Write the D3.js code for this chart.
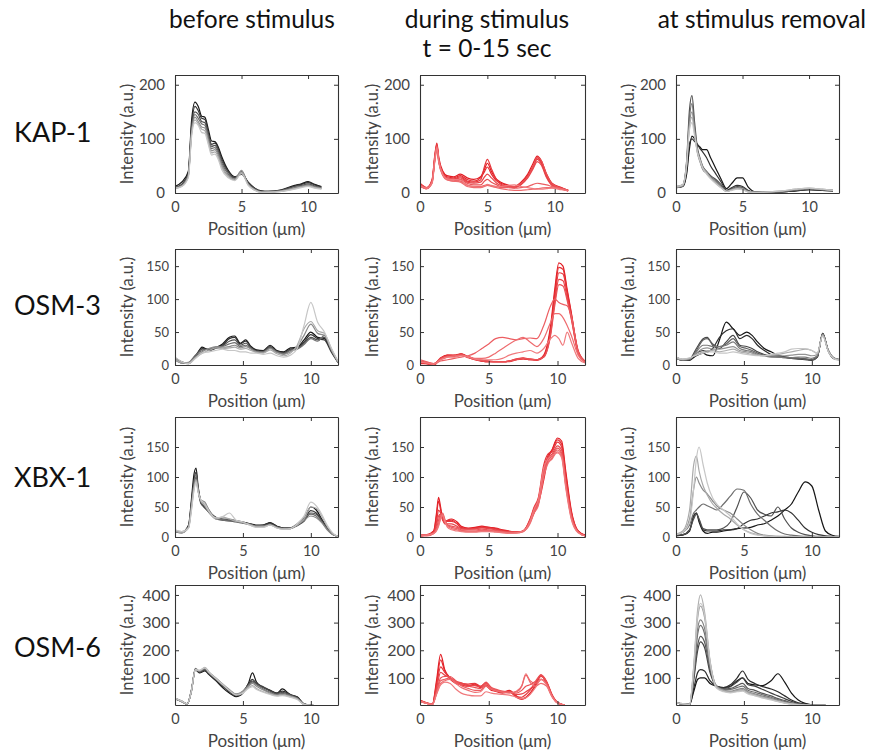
<!DOCTYPE html>
<html><head><meta charset="utf-8">
<script src="https://cdn.jsdelivr.net/npm/d3@7"></script>
<style>
body{margin:0;background:#fff}
svg{display:block}
text{font-family:Lato,"Open Sans",sans-serif}
</style>
</head><body>
<svg id="chart" width="883" height="754"></svg>
<script>
// ---- labels ----
const rowNames = ["KAP-1", "OSM-3", "XBX-1", "OSM-6"];
const colTitles = [["before stimulus"], ["during stimulus", "t = 0-15 sec"], ["at stimulus removal"]];
const xTickValues = [0, 5, 10];
const yTickValues = [[0, 100, 200], [0, 50, 100, 150], [0, 50, 100, 150], [100, 200, 300, 400]];
const yDomains = [[0, 218], [0, 176], [0, 200], [2, 436]];
const xDomains = [[0, 12.25], [0, 12], [0, 12], [0, 12]];

// ---- KAP-1 ----
const kap1BeforeX = [0,0.5,1.0,1.25,1.5,1.75,2.0,2.25,2.5,2.75,3.0,3.25,3.5,4.0,4.5,5.0,5.5,6.0,6.5,7.0,8.0,9.0,9.5,10.0,10.5,11.0];
const kap1Before = [
  [12,20,40,135,168,160,142,140,118,96,95,85,68,42,30,36,20,9,4,3,6,14,17,21,16,12],
  [10,16,38,125,160,152,138,136,112,90,92,82,64,40,28,35,19,8,3,3,5,13,16,19,15,11],
  [11,15,35,120,150,145,132,130,108,86,88,78,60,38,27,38,18,8,3,2,5,12,14,17,13,10],
  [9,14,33,115,145,138,128,125,104,82,84,74,56,35,25,40,17,7,2,2,4,10,13,15,12,9],
  [10,13,32,112,140,132,122,120,98,78,80,70,52,32,26,42,16,6,2,2,4,9,12,14,11,8],
  [8,12,30,110,135,128,118,115,94,74,76,66,48,30,24,38,15,5,1,2,3,8,11,13,10,8],
  [9,12,28,105,130,125,112,110,90,70,72,62,44,28,23,36,14,5,1,1,3,7,10,12,9,7]
];
const kap1DuringX = [0,0.5,0.9,1.1,1.25,1.4,1.7,2.0,2.5,3.0,3.5,4.0,4.5,4.8,5.0,5.3,5.7,6.0,6.5,7.0,7.5,8.0,8.4,8.7,9.0,9.4,9.8,10.5,11.0];
const kap1During = [
  [18,10,25,70,92,65,40,32,30,35,28,25,30,45,55,40,25,20,15,12,20,35,55,68,60,35,18,10,5],
  [15,8,22,65,88,60,38,30,28,32,25,22,28,40,48,35,22,18,14,10,18,32,50,65,58,32,16,9,5],
  [12,9,20,62,85,58,36,28,26,30,22,20,24,50,62,45,24,16,12,10,15,30,48,62,55,30,15,8,4],
  [14,8,24,68,90,62,35,27,25,28,20,18,20,30,35,28,18,14,12,10,16,28,45,58,52,28,14,8,4],
  [16,10,22,60,82,56,33,25,22,25,18,15,15,22,25,20,15,12,12,12,18,30,50,66,60,34,17,9,5],
  [13,9,20,64,86,60,34,26,24,22,15,12,12,14,15,13,12,10,10,9,10,12,16,18,17,15,12,8,5],
  [12,8,18,58,80,55,32,24,22,20,12,10,10,12,14,12,10,8,6,5,5,6,7,8,9,10,10,7,4],
  [14,9,20,62,84,58,34,26,25,24,14,12,11,13,16,14,12,12,14,15,12,10,8,7,7,8,9,6,4]
];
const kap1RemovalX = [0,0.5,0.8,1.0,1.2,1.4,1.6,1.8,2.0,2.3,2.6,3.0,3.4,3.8,4.2,4.6,5.0,5.4,6.0,7.0,8.0,9.0,10.0,11.0,11.8];
const kap1Removal = [
  [10,12,35,80,105,100,90,85,80,80,65,45,25,8,18,28,28,12,2,1,2,4,6,5,4],
  [10,12,40,90,100,95,90,82,76,65,50,35,20,5,10,14,12,5,1,1,2,4,6,5,4],
  [12,15,60,150,180,130,85,65,50,40,32,25,15,4,8,12,10,4,1,1,3,5,7,6,5],
  [11,14,55,135,165,120,80,60,45,38,30,22,12,3,7,10,9,3,1,1,3,6,8,6,5],
  [10,13,52,125,150,115,75,58,44,36,28,20,10,3,6,9,8,3,1,2,3,6,8,6,5],
  [11,14,55,120,140,110,78,62,48,38,28,18,10,3,6,8,7,2,1,2,4,7,9,7,5],
  [12,15,50,115,130,105,76,60,46,35,26,17,9,3,5,7,6,2,1,2,4,7,9,7,5]
];

// ---- OSM-3 ----
const osm3BeforeX = [0,0.5,1.0,1.5,2.0,2.5,3.0,3.5,4.0,4.4,4.8,5.2,5.6,6.0,6.5,7.0,7.5,8.0,8.5,9.0,9.5,10.0,10.5,11.0,11.5,12.0];
const osm3Before = [
  [10,4,3,12,27,22,26,32,42,44,33,38,28,23,22,30,22,20,26,27,38,50,42,40,22,4],
  [9,3,2,14,25,24,27,30,40,42,32,36,27,22,21,28,21,19,24,26,35,46,40,38,20,4],
  [11,5,3,13,24,23,25,29,36,38,30,33,26,21,20,27,20,18,23,25,33,42,38,42,22,5],
  [8,3,4,15,22,24,26,28,32,34,28,30,25,20,20,26,20,17,22,24,31,40,36,45,24,5],
  [10,4,3,12,20,25,28,27,28,30,26,28,24,20,19,25,19,16,20,28,45,62,48,45,23,4],
  [9,3,3,11,18,22,26,25,26,27,24,25,22,19,18,23,17,14,18,30,55,66,52,48,25,5],
  [12,5,2,10,18,20,22,24,22,22,20,20,18,18,16,18,14,12,15,25,60,95,65,50,26,6]
];
const osm3DuringX = [0,0.5,1.0,1.5,2.0,2.5,3.0,3.5,4.0,4.5,5.0,5.5,6.0,6.5,7.0,7.5,8.0,8.5,9.0,9.5,9.8,10.1,10.4,10.7,11.0,11.5,12.0];
const osm3During = [
  [2,2,0,10,15,14,17,12,9,6,5,5,5,6,8,10,8,8,15,60,115,155,150,115,80,20,5],
  [3,2,1,11,15,15,16,13,9,7,6,5,5,6,9,10,9,8,14,55,108,148,145,112,78,22,6],
  [4,2,0,9,14,15,17,12,8,6,5,5,5,5,8,9,8,7,12,50,100,140,138,108,75,20,5],
  [5,3,1,10,14,13,15,11,8,6,5,5,5,6,9,11,9,8,13,48,95,130,128,102,72,18,5],
  [6,4,2,10,13,14,15,12,9,7,6,5,5,6,8,10,9,8,12,45,90,122,120,98,70,18,4],
  [8,5,2,6,8,10,12,14,18,25,32,40,42,40,38,40,41,40,60,90,100,95,92,90,75,20,5],
  [5,3,2,8,12,14,15,13,10,10,12,18,25,32,38,42,35,28,40,65,78,78,72,60,45,15,4],
  [4,3,1,8,12,12,14,12,9,8,8,8,10,15,18,20,22,18,25,40,45,40,30,50,35,10,3]
];
const osm3RemovalX = [0,0.5,1.0,1.5,2.0,2.3,2.7,3.2,3.7,4.2,4.7,5.2,5.6,6.0,6.5,7.0,7.5,8.0,8.5,9.0,9.5,10.0,10.4,10.8,11.2,11.6,12.0];
const osm3Removal = [
  [12,8,8,14,18,15,14,38,65,55,45,50,45,35,25,20,15,12,11,10,9,8,12,48,22,10,8],
  [10,7,7,18,22,20,25,42,52,55,40,45,40,30,22,16,14,12,10,9,8,7,12,47,22,10,8],
  [11,8,9,25,40,42,30,25,35,45,30,28,25,20,16,14,13,12,11,10,9,8,13,48,23,11,8],
  [10,7,8,22,38,40,32,28,32,40,28,25,22,18,15,13,12,11,10,10,9,8,12,46,22,10,8],
  [12,8,9,20,30,30,28,28,30,35,25,22,20,16,14,12,12,11,11,12,12,10,14,47,23,11,8],
  [11,9,10,18,25,26,24,24,26,28,22,20,18,15,14,14,14,14,15,16,16,14,16,46,22,11,8],
  [10,8,10,16,20,22,22,20,22,24,20,18,16,15,14,15,16,18,20,22,24,22,18,45,22,10,8],
  [12,9,11,15,18,20,20,18,18,20,18,16,15,14,14,16,18,20,24,25,25,22,18,44,21,10,7]
];

// ---- XBX-1 ----
const xbx1BeforeX = [0,0.5,1.0,1.2,1.4,1.55,1.7,1.9,2.2,2.6,3.0,3.5,4.0,4.5,5.0,5.5,6.0,6.5,7.0,7.5,8.0,8.5,9.0,9.5,10.0,10.4,10.8,11.2,11.6,12.0];
const xbx1Before = [
  [10,8,20,60,105,115,85,60,50,40,33,30,29,27,25,22,20,20,24,18,15,15,20,30,50,45,30,15,5,1],
  [9,7,18,55,95,108,80,58,48,40,32,29,28,26,24,22,19,20,23,18,15,15,20,28,44,40,28,14,5,1],
  [10,8,17,50,88,100,78,56,50,38,31,28,27,25,23,21,18,19,22,17,14,14,19,26,40,38,27,14,5,1],
  [9,8,18,52,90,105,82,60,55,42,30,28,27,26,24,21,18,18,21,16,14,15,22,32,38,35,25,13,4,1],
  [11,9,16,48,84,96,78,62,58,40,32,30,30,27,24,21,18,18,20,16,14,14,20,28,35,32,24,12,4,1],
  [10,7,15,45,80,95,76,60,52,38,30,33,30,26,24,20,17,17,20,15,13,14,20,30,50,48,35,18,6,1],
  [12,9,15,42,78,92,75,62,55,40,32,34,40,28,25,20,16,16,20,15,13,14,22,35,58,52,38,20,7,1]
];
const xbx1DuringX = [0,0.5,1.0,1.2,1.35,1.5,1.65,1.8,2.0,2.3,2.7,3.0,3.5,4.0,4.5,5.0,5.5,6.0,6.5,7.0,7.5,8.0,8.3,8.6,9.0,9.3,9.6,10.0,10.3,10.6,11.0,11.5,12.0];
const xbx1During = [
  [3,3,10,40,66,50,30,25,28,30,25,18,15,16,18,16,15,12,10,8,10,25,40,55,95,130,145,165,160,110,45,10,3],
  [3,4,10,35,60,45,28,24,27,28,22,16,14,15,17,16,14,11,9,8,10,28,45,62,110,135,145,162,155,105,42,10,3],
  [2,3,8,25,45,40,32,25,26,26,22,15,14,14,16,15,13,10,9,8,10,30,50,65,120,138,142,158,150,100,40,9,2],
  [2,3,8,20,35,38,30,22,22,22,18,14,13,14,15,14,12,10,9,8,10,28,48,60,115,132,138,152,145,95,38,9,2],
  [2,3,7,15,28,38,35,25,20,18,16,12,12,12,13,12,11,9,8,8,10,26,45,58,110,128,135,148,140,92,36,8,2],
  [2,2,6,12,22,35,40,30,20,16,14,11,10,10,11,11,10,8,7,7,9,24,42,55,105,125,132,145,138,88,34,8,2],
  [2,3,6,12,20,32,38,28,18,14,12,10,9,9,10,10,9,8,7,7,9,22,40,52,100,122,130,142,135,85,32,8,2],
  [3,3,6,10,18,30,36,26,16,12,10,9,8,8,9,9,8,7,6,7,10,26,46,62,115,130,136,140,132,82,30,7,2]
];
const xbx1RemovalX = [0,0.5,1.0,1.3,1.5,1.7,2.0,2.3,2.7,3.0,3.5,4.0,4.5,5.0,5.5,6.0,6.5,7.0,7.5,8.0,8.5,9.0,9.5,10.0,10.5,11.0,11.5,12.0];
const xbx1Removal = [
  [2,3,10,35,40,25,10,6,8,8,10,12,14,15,16,20,22,28,35,45,55,75,92,85,45,10,3,1],
  [3,4,12,35,40,28,12,10,10,10,12,12,14,22,28,30,35,40,42,45,40,28,15,8,4,2,1,0],
  [3,4,12,30,38,30,14,12,12,12,15,25,50,75,65,45,38,35,50,30,15,8,4,2,1,1,0,0],
  [4,8,20,40,45,50,55,52,48,45,55,68,80,78,55,38,28,18,10,5,3,2,1,1,0,0,0,0],
  [5,8,30,80,100,90,78,72,60,52,45,40,30,20,12,6,3,2,1,1,0,0,0,0,0,0,0,0],
  [5,10,45,120,135,110,85,70,55,48,38,30,20,12,7,4,2,1,1,0,0,0,0,0,0,0,0,0],
  [4,8,25,80,130,150,120,90,65,55,45,35,22,12,6,3,2,1,0,0,0,0,0,0,0,0,0,0]
];

// ---- OSM-6 ----
const osm6BeforeX = [0,0.5,0.9,1.2,1.5,1.8,2.2,2.5,3.0,3.5,4.0,4.5,5.0,5.4,5.7,6.0,6.5,7.0,7.5,7.9,8.5,9.0,9.5,10.0,10.5,11.0];
const osm6Before = [
  [25,15,6,55,132,118,125,112,90,65,45,32,45,80,118,85,65,55,45,60,38,32,5,1,0,0],
  [24,14,5,52,128,120,128,115,92,70,50,35,48,78,95,80,68,55,45,52,40,30,6,1,0,0],
  [26,16,6,50,130,122,130,115,95,72,52,38,50,75,88,78,65,52,42,48,38,28,5,1,0,0],
  [25,15,5,50,135,125,133,118,98,75,55,40,52,72,85,75,60,48,40,44,36,26,5,1,0,0],
  [24,14,6,48,130,125,135,120,100,78,58,42,52,70,80,70,56,45,38,40,34,25,5,1,0,0],
  [26,15,5,50,128,126,138,122,100,78,56,40,48,65,72,62,50,42,36,38,32,24,4,1,0,0],
  [27,16,6,52,130,128,136,120,98,76,54,38,45,62,68,58,48,40,34,36,30,22,4,1,0,0]
];
const osm6DuringX = [0,0.5,0.9,1.2,1.5,1.8,2.2,2.6,3.0,3.5,4.0,4.4,4.8,5.2,5.6,6.0,6.5,7.0,7.4,7.7,8.0,8.4,8.8,9.2,9.6,10.0,10.5];
const osm6During = [
  [20,10,5,90,185,130,100,80,75,70,78,65,70,55,52,48,55,35,25,30,45,70,95,80,35,10,2],
  [18,9,4,80,165,125,95,82,80,72,75,68,75,58,50,45,50,30,22,28,42,75,105,85,38,10,2],
  [16,8,5,70,140,120,100,85,80,78,80,70,80,60,52,48,52,32,30,40,55,80,110,88,40,12,2],
  [15,8,4,60,120,110,100,88,82,75,72,68,85,62,55,50,48,40,42,50,60,82,108,82,36,10,2],
  [16,9,4,50,100,105,105,90,78,70,65,62,82,65,58,52,50,45,55,70,75,88,112,86,38,11,2],
  [15,8,4,45,90,95,100,85,72,62,55,55,78,62,55,50,48,50,70,110,90,80,95,78,35,10,2],
  [16,8,4,42,80,90,95,80,65,55,48,50,70,58,52,48,45,52,72,115,85,70,80,70,32,9,2],
  [14,8,4,40,75,85,80,60,45,38,35,35,50,45,42,40,38,30,25,28,40,65,95,75,32,9,2]
];
const osm6RemovalX = [0,0.5,1.0,1.3,1.6,1.8,2.1,2.5,3.0,3.5,4.0,4.5,4.9,5.3,5.8,6.3,7.0,7.5,8.0,8.5,9.0,9.5,10.0,11.0];
const osm6Removal = [
  [10,6,4,50,95,100,100,80,70,65,70,90,100,80,75,72,90,115,85,45,20,8,3,1],
  [10,6,4,60,120,130,125,90,70,65,75,100,125,95,80,70,60,50,35,20,10,5,2,1],
  [10,6,4,90,200,230,210,120,70,62,68,85,100,75,70,60,45,35,25,15,8,4,2,1],
  [11,7,4,100,220,250,230,130,68,60,62,72,80,62,55,45,35,25,18,10,6,3,2,1],
  [10,6,4,110,260,290,260,140,70,58,58,65,70,55,48,40,30,22,15,9,5,3,1,1],
  [10,6,4,115,280,310,280,150,65,55,52,58,62,50,42,35,26,18,12,8,4,2,1,1],
  [10,6,4,130,320,360,320,160,68,55,50,55,58,48,40,32,24,16,10,6,3,2,1,1],
  [10,6,4,140,350,400,340,165,66,52,48,52,55,45,38,30,22,15,10,6,3,2,1,1],
  [11,7,4,135,330,370,330,160,62,50,46,50,52,42,35,28,20,14,9,5,3,2,1,1]
];

const panels = [
  [[kap1BeforeX, kap1Before], [kap1DuringX, kap1During], [kap1RemovalX, kap1Removal]],
  [[osm3BeforeX, osm3Before], [osm3DuringX, osm3During], [osm3RemovalX, osm3Removal]],
  [[xbx1BeforeX, xbx1Before], [xbx1DuringX, xbx1During], [xbx1RemovalX, xbx1Removal]],
  [[osm6BeforeX, osm6Before], [osm6DuringX, osm6During], [osm6RemovalX, osm6Removal]]
];

// ---- layout ----
const colX = [[175, 338], [420, 585], [676, 839]];
const rowY = [[75, 193], [249, 365], [417, 537], [585, 705]];
const yTickFont = [15, 13, 13, 16];
const yTickPad = [10, 6, 6, 5];
const axisColor = "#333";
const labelColor = "#444";

const grayScale = d3.interpolateRgb("#151515", "#c6c6c6");
const redScale = d3.interpolateRgb("#e21c22", "#f0797c");

const svg = d3.select("#chart");
const defs = svg.append("defs");

// column titles
const titleX = [252, 487, 762];
colTitles.forEach((lines, c) => {
  lines.forEach((t, i) => {
    svg.append("text").attr("x", titleX[c]).attr("y", 28 + i * 29)
      .attr("text-anchor", "middle").attr("font-size", 24.5).attr("fill", "#111").text(t);
  });
});

// row names
const rowNameY = [142, 315, 487, 657];
rowNames.forEach((n, r) => {
  svg.append("text").attr("x", 14).attr("y", rowNameY[r])
    .attr("font-size", 27).attr("fill", "#111").text(n);
});

panels.forEach((row, r) => {
  row.forEach(([xs, traces], c) => {
    const [x0, x1] = colX[c];
    const [yTop, yBot] = rowY[r];
    const x = d3.scaleLinear().domain(xDomains[r]).range([x0, x1]);
    const y = d3.scaleLinear().domain(yDomains[r]).range([yBot, yTop]);
    const g = svg.append("g");
    const clipId = `clip-${r}-${c}`;
    defs.append("clipPath").attr("id", clipId).append("rect")
      .attr("x", x0).attr("y", yTop).attr("width", x1 - x0).attr("height", yBot - yTop);

    const line = d3.line().x((d, i) => x(xs[i])).y(d => y(d)).curve(d3.curveMonotoneX);
    const n = traces.length;
    const color = (i) => c === 1 ? redScale(i / (n - 1)) : grayScale(i / (n - 1));
    g.append("g").attr("clip-path", `url(#${clipId})`)
      .selectAll("path").data(traces).join("path")
      .attr("d", line).attr("fill", "none")
      .attr("stroke", (d, i) => color(i)).attr("stroke-width", 1.2)
      .attr("stroke-linejoin", "round");

    // axes with inward ticks, box on all sides
    const styleAxis = (sel, fs) => {
      sel.selectAll("path").attr("stroke", axisColor).attr("stroke-width", 1.1);
      sel.selectAll("line").attr("stroke", axisColor);
      sel.selectAll("text").attr("fill", labelColor).attr("font-size", fs)
        .attr("font-family", "Lato, 'Open Sans', sans-serif");
    };
    const ax = g.append("g").attr("transform", `translate(0,${yBot})`)
      .call(d3.axisBottom(x).tickValues(xTickValues).tickSizeInner(-4).tickSizeOuter(0).tickPadding(9));
    styleAxis(ax, 14.5);
    const axT = g.append("g").attr("transform", `translate(0,${yTop})`)
      .call(d3.axisTop(x).tickValues(xTickValues).tickSizeInner(-4).tickSizeOuter(0).tickFormat(""));
    styleAxis(axT, 13);
    const ay = g.append("g").attr("transform", `translate(${x0},0)`)
      .call(d3.axisLeft(y).tickValues(yTickValues[r]).tickSizeInner(-4).tickSizeOuter(0).tickPadding(yTickPad[r]));
    styleAxis(ay, yTickFont[r]);
    const ayR = g.append("g").attr("transform", `translate(${x1},0)`)
      .call(d3.axisRight(y).tickValues(yTickValues[r]).tickSizeInner(-4).tickSizeOuter(0).tickFormat(""));
    styleAxis(ayR, 12);

    g.append("text").attr("x", (x0 + x1) / 2).attr("y", yBot + 42)
      .attr("text-anchor", "middle").attr("font-size", 17).attr("fill", labelColor)
      .text("Position (μm)");
    g.append("text")
      .attr("transform", `translate(${x0 - 42},${(yTop + yBot) / 2}) rotate(-90)`)
      .attr("text-anchor", "middle").attr("font-size", 16.5).attr("fill", labelColor)
      .text("Intensity (a.u.)");
  });
});
</script>
</body></html>
